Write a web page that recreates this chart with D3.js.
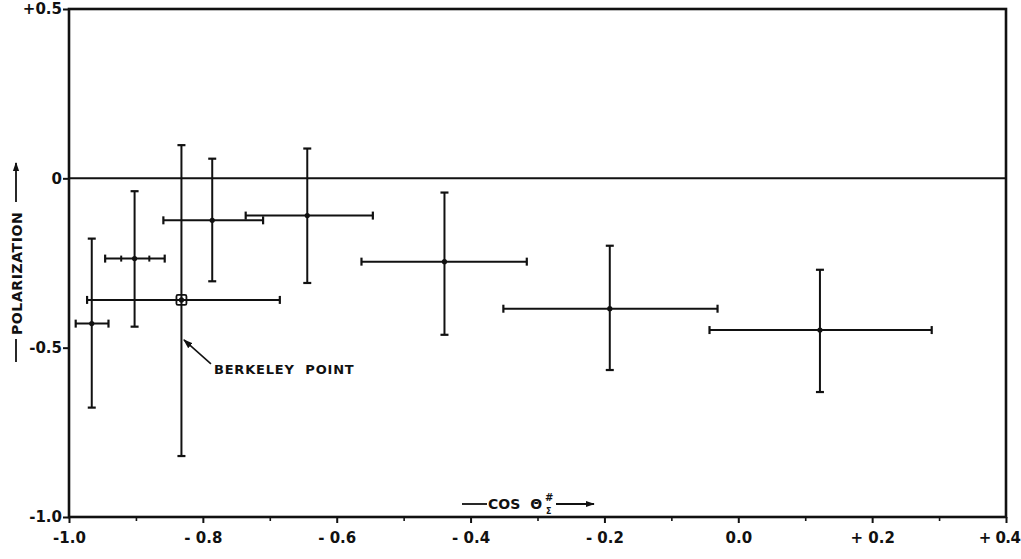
<!DOCTYPE html>
<html><head><meta charset="utf-8">
<script src="https://cdn.jsdelivr.net/npm/d3@7"></script>
<style>
html,body{margin:0;padding:0;background:#fff;}
svg{display:block;}
text{font-family:"DejaVu Sans","Liberation Sans",sans-serif;font-weight:bold;fill:#111;}
</style></head>
<body>
<svg id="chart" width="1021" height="559"></svg>
<script>
// ---- data ----
const cosTheta     = [-0.966, -0.902, -0.832, -0.786, -0.644, -0.439, -0.192, 0.122];
const cosLow       = [-0.990, -0.946, -0.973, -0.859, -0.736, -0.563, -0.351, -0.043];
const cosHigh      = [-0.941, -0.857, -0.685, -0.710, -0.546, -0.316, -0.031, 0.289];
const polarization = [-0.429, -0.237, -0.359, -0.124, -0.110, -0.246, -0.385, -0.448];
const polLow       = [-0.677, -0.438, -0.820, -0.304, -0.309, -0.462, -0.566, -0.631];
const polHigh      = [-0.178, -0.038, 0.098, 0.058, 0.088, -0.042, -0.199, -0.270];
const innerTicks   = [null, [-0.922, -0.880], null, null, null, null, null, null];
const berkeleyIndex = 2;
const xTickValues  = [-1.0, -0.8, -0.6, -0.4, -0.2, 0.0, 0.2, 0.4];
const xTickLabels  = ["-1.0", "- 0.8", "- 0.6", "- 0.4", "- 0.2", "0.0", "+ 0.2", "+ 0.4"];
const xMinorValues = [-0.9, -0.7, -0.5, -0.3, -0.1, 0.1, 0.3];
const yTickValues  = [0.5, 0, -0.5, -1.0];
const yTickLabels  = ["+0.5", "0", "-0.5", "-1.0"];

const svg = d3.select("#chart");
const L = 69, R = 1006, T = 9, B = 517;
const x = d3.scaleLinear().domain([-1.0, 0.4]).range([L, R]);
const y = d3.scaleLinear().domain([-1.0, 0.5]).range([B, T]);
const ink = "#111";

// frame
svg.append("rect").attr("x", L).attr("y", T).attr("width", R - L).attr("height", B - T)
  .attr("fill", "none").attr("stroke", ink).attr("stroke-width", 2.6);

// x axis
const xAxis = svg.append("g").attr("transform", `translate(0,${B})`)
  .call(d3.axisBottom(x).tickValues(xTickValues).tickSize(6).tickPadding(9)
    .tickFormat((d, i) => xTickLabels[i]));
xAxis.select(".domain").remove();
xAxis.selectAll(".tick line").attr("stroke", ink).attr("stroke-width", 2);
xAxis.selectAll(".tick text").attr("font-size", 15).style("font-family", "DejaVu Sans").style("font-weight", "bold").attr("fill", ink);
// last label sits flush with the right edge as in the figure
xAxis.selectAll(".tick text").filter((d, i) => i === xTickValues.length - 1)
  .attr("text-anchor", "end").attr("dx", 14).attr("letter-spacing", -0.5);
const xMinor = svg.append("g").attr("transform", `translate(0,${B})`)
  .call(d3.axisBottom(x).tickValues(xMinorValues).tickSize(4).tickFormat(""));
xMinor.select(".domain").remove();
xMinor.selectAll(".tick line").attr("stroke", ink).attr("stroke-width", 1.6);

// y axis
const yAxis = svg.append("g").attr("transform", `translate(${L},0)`)
  .call(d3.axisLeft(y).tickValues(yTickValues).tickSize(6).tickPadding(1)
    .tickFormat((d, i) => yTickLabels[i]));
yAxis.select(".domain").remove();
yAxis.selectAll(".tick line").attr("stroke", ink).attr("stroke-width", 2);
yAxis.selectAll(".tick text").attr("font-size", 15).style("font-family", "DejaVu Sans").style("font-weight", "bold").attr("fill", ink);

// zero line
svg.append("line").attr("x1", x(-1.0)).attr("x2", x(0.4)).attr("y1", y(0)).attr("y2", y(0))
  .attr("stroke", ink).attr("stroke-width", 2);

// error bars
const idx = d3.range(cosTheta.length);
const g = svg.append("g").attr("stroke", ink).attr("fill", "none");
const capH = 4, capV = 4;
idx.forEach(i => {
  const cx = x(cosTheta[i]), cy = y(polarization[i]);
  g.append("line").attr("x1", x(cosLow[i])).attr("x2", x(cosHigh[i])).attr("y1", cy).attr("y2", cy).attr("stroke-width", 2);
  [cosLow[i], cosHigh[i]].forEach(v => g.append("line").attr("x1", x(v)).attr("x2", x(v))
    .attr("y1", cy - capH).attr("y2", cy + capH).attr("stroke-width", 2.2));
  if (innerTicks[i]) innerTicks[i].forEach(v => g.append("line").attr("x1", x(v)).attr("x2", x(v))
    .attr("y1", cy - 3).attr("y2", cy + 3).attr("stroke-width", 2));
  g.append("line").attr("x1", cx).attr("x2", cx).attr("y1", y(polLow[i])).attr("y2", y(polHigh[i])).attr("stroke-width", 2);
  [polLow[i], polHigh[i]].forEach(v => g.append("line").attr("x1", cx - capV).attr("x2", cx + capV)
    .attr("y1", y(v)).attr("y2", y(v)).attr("stroke-width", 2.2));
  svg.append("circle").attr("cx", cx).attr("cy", cy).attr("r", 2.6).attr("fill", ink);
});

const defs = svg.append("defs");
defs.append("marker").attr("id", "ah").attr("viewBox", "0 0 10 10").attr("refX", 9).attr("refY", 5)
  .attr("markerWidth", 6).attr("markerHeight", 6).attr("orient", "auto")
  .append("path").attr("d", "M0,1.5 L10,5 L0,8.5 Z").attr("fill", ink);
defs.append("marker").attr("id", "ah2").attr("viewBox", "0 0 10 10").attr("refX", 9).attr("refY", 5)
  .attr("markerWidth", 5).attr("markerHeight", 5).attr("orient", "auto")
  .append("path").attr("d", "M0,1.5 L10,5 L0,8.5 Z").attr("fill", ink);

// Berkeley point marker + annotation
{
  const cx = x(cosTheta[berkeleyIndex]), cy = y(polarization[berkeleyIndex]);
  svg.append("rect").attr("x", cx - 5).attr("y", cy - 5).attr("width", 10).attr("height", 10).attr("rx", 1.5)
    .attr("fill", "none").attr("stroke", ink).attr("stroke-width", 1.8);
  const tipX = cx + 2.5, tipY = cy + 40;
  svg.append("line").attr("x1", tipX + 27).attr("y1", tipY + 24).attr("x2", tipX).attr("y2", tipY)
    .attr("stroke", ink).attr("stroke-width", 1.6).attr("marker-end", "url(#ah)");
  svg.append("text").attr("x", tipX + 30).attr("y", tipY + 34).attr("font-size", 13)
    .attr("letter-spacing", 0.8).attr("xml:space", "preserve").text("BERKELEY  POINT");
}

// x axis title: — COS Θ#Σ —→
{
  const ty = 509;
  svg.append("line").attr("x1", 462).attr("x2", 487).attr("y1", ty - 5).attr("y2", ty - 5).attr("stroke", ink).attr("stroke-width", 1.8);
  const t = svg.append("text").attr("x", 488).attr("y", ty).attr("font-size", 14);
  t.append("tspan").text("COS");
  t.append("tspan").attr("dx", 10).text("Θ");
  svg.append("text").attr("x", 545).attr("y", ty - 8).attr("font-size", 10).text("#");
  svg.append("text").attr("x", 546).attr("y", ty + 5).attr("font-size", 8).text("Σ");
  svg.append("line").attr("x1", 556).attr("x2", 594).attr("y1", ty - 5).attr("y2", ty - 5)
    .attr("stroke", ink).attr("stroke-width", 1.8).attr("marker-end", "url(#ah2)");
}

// y axis title: — POLARIZATION —→ (rotated)
{
  const gy = svg.append("g").attr("transform", "translate(22,0) rotate(-90)");
  gy.append("line").attr("x1", -362).attr("x2", -339).attr("y1", -6).attr("y2", -6).attr("stroke", ink).attr("stroke-width", 1.8);
  gy.append("text").attr("x", -335).attr("y", 0).attr("font-size", 14).attr("letter-spacing", 0.6).text("POLARIZATION");
  gy.append("line").attr("x1", -202).attr("x2", -163).attr("y1", -6).attr("y2", -6)
    .attr("stroke", ink).attr("stroke-width", 1.8).attr("marker-end", "url(#ah2)");
}
</script>
</body></html>
